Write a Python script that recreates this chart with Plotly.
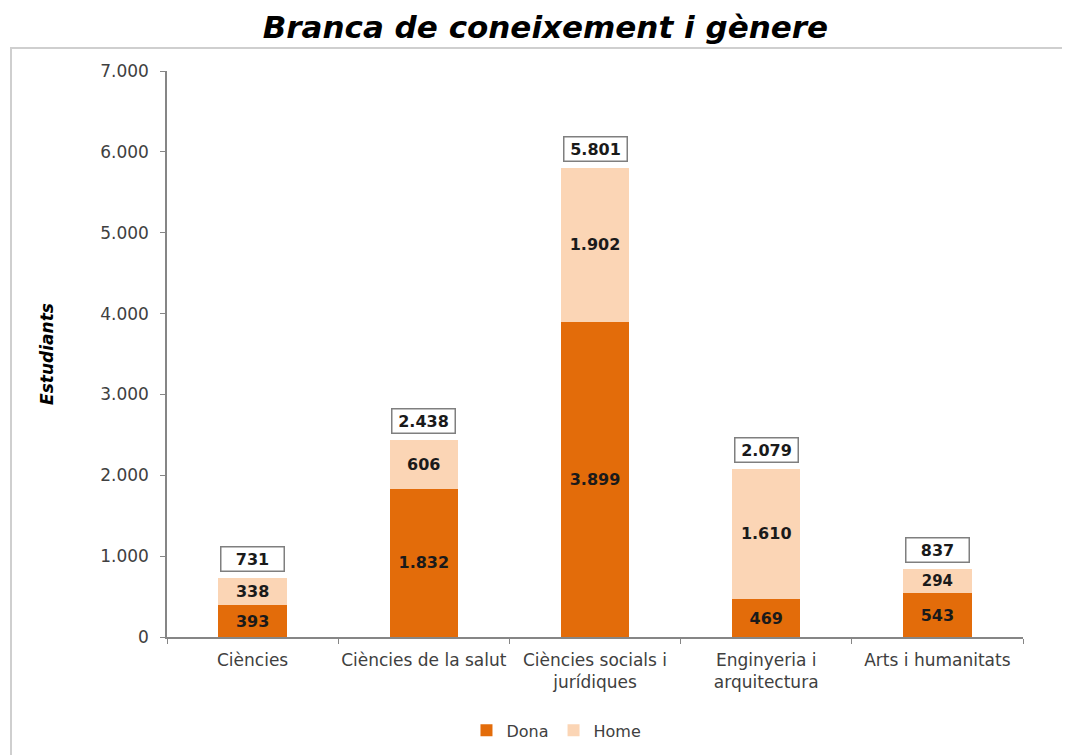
import plotly.graph_objects as go

categories = ["Ciències", "Ciències de la salut", "Ciències socials i<br>jurídiques",
              "Enginyeria i<br>arquitectura", "Arts i humanitats"]
dona = [393, 1832, 3899, 469, 543]
home = [338, 606, 1902, 1610, 294]
totals = [d + h for d, h in zip(dona, home)]
y_ticks = [0, 1000, 2000, 3000, 4000, 5000, 6000, 7000]

FONT = "DejaVu Sans"
label_font = dict(family=FONT, size=16, color="#1a1a1a")

fig = go.Figure()
fig.add_trace(go.Bar(
    name="Dona", x=categories, y=dona, marker=dict(color="#E36C0A", line=dict(width=0)),
    texttemplate="<b>%{y:,d}</b>", textposition="inside", insidetextanchor="middle",
    textfont=label_font, width=0.4))
fig.add_trace(go.Bar(
    name="Home", x=categories, y=home, marker=dict(color="#FBD5B5", line=dict(width=0)),
    texttemplate="<b>%{y:,d}</b>", textposition="inside", insidetextanchor="middle",
    textfont=label_font, width=0.4))

for c, t in zip(categories, totals):
    fig.add_annotation(
        x=c, y=t, xref="x", yref="y", text="<b>{:,}</b>".format(t).replace(",", "."),
        showarrow=False, yanchor="bottom", yshift=6,
        font=label_font, bordercolor="#7f7f7f", borderwidth=1.5, borderpad=2,
        bgcolor="white", width=58)

# outer frame (figure is offset 8px by the page body margin)
fig.add_shape(type="rect", xref="paper", yref="paper",
              x0=(3 - 159) / 856, x1=(1075 - 159) / 856,
              y0=(629 - 765) / 566, y1=(629 - 40) / 566,
              line=dict(color="#cfcfcf", width=2), layer="below")

fig.update_layout(
    barmode="stack",
    width=1062, height=747,
    margin=dict(l=159, r=47, t=63, b=118, autoexpand=False),
    separators=",.",
    paper_bgcolor="white", plot_bgcolor="white",
    title=dict(text="<b><i>Branca de coneixement i gènere</i></b>", x=0.506, xanchor="center",
               y=0.975, yanchor="middle", font=dict(family=FONT, size=31, color="black")),
    showlegend=True,
    legend=dict(orientation="h", x=0.455, xanchor="center", y=-0.165, yanchor="middle",
                font=dict(family=FONT, size=16, color="#404040"), traceorder="normal",
                itemwidth=30),
    bargap=0.6,
)
fig.update_yaxes(
    range=[0, 7000], tickvals=y_ticks, tickformat=",d", automargin=False,
    showgrid=False, showline=True, linecolor="#868686", linewidth=1.5,
    ticks="outside", ticklen=5, tickcolor="#868686", ticklabelstandoff=8,
    tickfont=dict(family=FONT, size=17, color="#404040"),
    title=dict(text="<b><i>Estudiants</i></b>", font=dict(family=FONT, size=17, color="black"),
               standoff=42),
    zeroline=False,
)
fig.update_xaxes(
    showgrid=False, showline=True, linecolor="#868686", linewidth=1.5, automargin=False,
    ticks="outside", ticklen=5, tickcolor="#868686", tickson="boundaries",
    ticklabelstandoff=7, tickangle=0,
    tickfont=dict(family=FONT, size=17, color="#404040"),
)

fig.write_html("out.html")
